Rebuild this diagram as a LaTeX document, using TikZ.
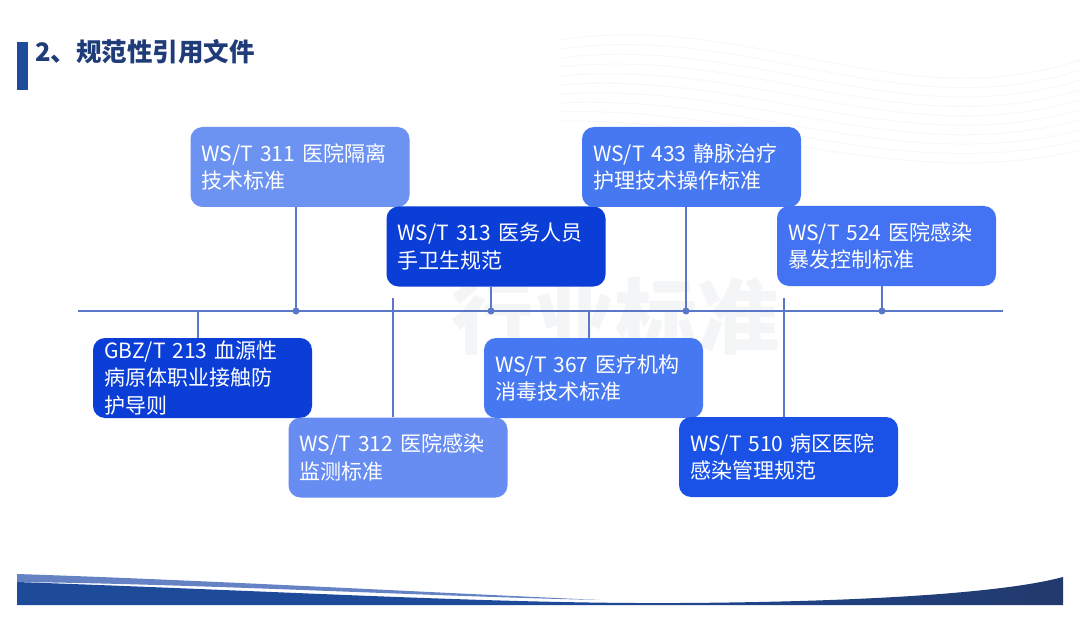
\documentclass[tikz,border=0pt]{standalone}
\usepackage{fontspec}
\setmainfont{Noto Sans CJK SC}
\usetikzlibrary{calc}
\definecolor{navy}{HTML}{1F3C78}
\definecolor{barblue}{HTML}{1E4C9C}
\definecolor{linec}{HTML}{5B78C8}
\definecolor{cLight}{HTML}{6C93F1}
\definecolor{cMid}{HTML}{4678F1}
\definecolor{cDark}{HTML}{0B3ED6}
\definecolor{cDarkB}{HTML}{1A52E8}
\definecolor{wm}{HTML}{F4F5F7}
\definecolor{bandA}{HTML}{1E4A9A}
\definecolor{bandB}{HTML}{223A6C}
\definecolor{bandL}{HTML}{6582C4}
\tikzset{
  stdbox/.style={rounded corners=12pt, minimum width=219pt, minimum height=80pt,
    text width=197pt, align=left, inner sep=0pt, text=white,
    font=\fontsize{21}{27.5}\selectfont},
  conn/.style={draw=linec, line width=1.2pt},
  dotc/.style={circle, fill=linec, inner sep=0pt, minimum size=7pt},
}
\begin{document}
\begin{tikzpicture}[x=1pt,y=-1pt]
\useasboundingbox (0,0) rectangle (1080,623);
\fill[white] (0,0) rectangle (1080,623);
% faint background waves
\foreach \k in {0,...,9}{
  \draw[black!3, line width=0.8pt] (560,{40+\k*9}) .. controls (750,{10+\k*12}) and (900,{120+\k*8}) .. (1080,{60+\k*10});
}
% watermark
\node[text=wm, font=\fontsize{82}{82}\selectfont\bfseries] (wmk) at (615,316) {行业标准};
% title
\fill[barblue] (17,42) rectangle (28,90);
\node[anchor=west, text=navy, font=\fontsize{25.5}{25.5}\selectfont\bfseries, inner sep=0pt] (title) at (35,52) {2、规范性引用文件};
% timeline
\coordinate (tl) at (78,311);
\coordinate (tr) at (1003,311);
\draw[conn] (tl) -- (tr);
% boxes
\node[stdbox, fill=cLight] (b311) at (300,167) {WS/T 311 医院隔离\\技术标准};
\node[stdbox, fill=cDark]  (b313) at (496,246.5) {WS/T 313 医务人员\\手卫生规范};
\node[stdbox, fill=cMid]   (b433) at (691.5,167) {WS/T 433 静脉治疗\\护理技术操作标准};
\node[stdbox, fill=cMid!95!blue]   (b524) at (886.5,246) {WS/T 524 医院感染\\暴发控制标准};
\node[stdbox, fill=cDark]  (gbz) at (202.5,378) {GBZ/T 213 血源性\\病原体职业接触防\\护导则};
\node[stdbox, fill=cLight!95!blue] (b312) at (398,457.5) {WS/T 312 医院感染\\监测标准};
\node[stdbox, fill=cMid]   (b367) at (593.5,378) {WS/T 367 医疗机构\\消毒技术标准};
\node[stdbox, fill=cDarkB] (b510) at (788.5,457) {WS/T 510 病区医院\\感染管理规范};
% dots
\node[dotc] (d1) at (296,311) {};
\node[dotc] (d2) at (491,311) {};
\node[dotc] (d3) at (686,311) {};
\node[dotc] (d4) at (882,311) {};
% connectors upper
\draw[conn] (d1.center) -- (d1.center |- b311.south);
\draw[conn] (d2.center) -- (d2.center |- b313.south);
\draw[conn] (d3.center) -- (d3.center |- b433.south);
\draw[conn] (d4.center) -- (d4.center |- b524.south);
% connectors lower
\coordinate (u1) at (198,311);
\coordinate (u2) at (393,298);
\coordinate (u3) at (589,311);
\coordinate (u4) at (784,298);
\draw[conn] (u1) -- (u1 |- gbz.north);
\draw[conn] (u2) -- (u2 |- b312.north);
\draw[conn] (u3) -- (u3 |- b367.north);
\draw[conn] (u4) -- (u4 |- b510.north);
% bottom band
\shade[left color=bandA, right color=bandB, middle color=bandA]
  (17,582) .. controls (300,592) and (500,604) .. (680,603)
  .. controls (850,602) and (1000,594) .. (1063,577) -- (1063,605) -- (17,605) -- cycle;
\fill[bandL] (17,574) .. controls (200,580) and (420,592) .. (600,600)
  .. controls (420,596) and (200,584) .. (17,582) -- cycle;
\end{tikzpicture}
\end{document}
